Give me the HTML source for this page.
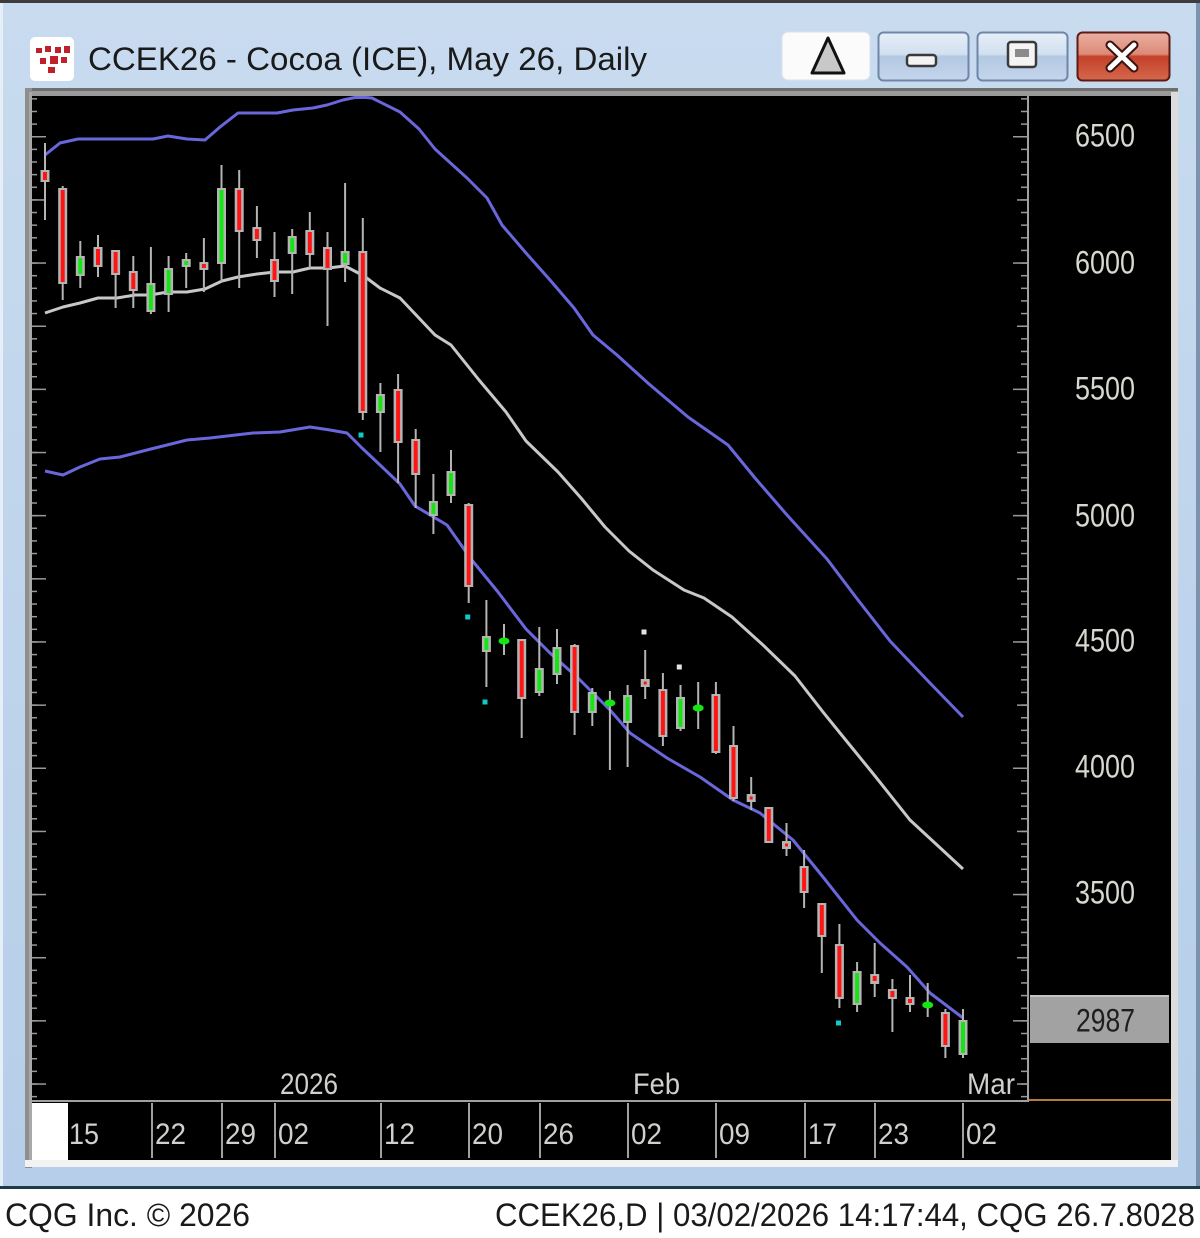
<!DOCTYPE html>
<html><head><meta charset="utf-8"><style>
html,body{margin:0;padding:0;background:#fff;}
svg{display:block;}
text{font-family:"Liberation Sans",sans-serif;}
</style></head><body>
<svg width="1200" height="1238" viewBox="0 0 1200 1238" xmlns="http://www.w3.org/2000/svg">
<defs>
<linearGradient id="tb" x1="0" y1="0" x2="0" y2="1"><stop offset="0" stop-color="#c8dbef"/><stop offset="1" stop-color="#b6cee9"/></linearGradient>
<linearGradient id="btn" x1="0" y1="0" x2="0" y2="1"><stop offset="0" stop-color="#e6eff9"/><stop offset="0.45" stop-color="#d2e0f0"/><stop offset="0.5" stop-color="#b3c8e2"/><stop offset="1" stop-color="#c4d6ec"/></linearGradient>
<linearGradient id="cls" x1="0" y1="0" x2="0" y2="1"><stop offset="0" stop-color="#eab0a2"/><stop offset="0.45" stop-color="#dc8a76"/><stop offset="0.5" stop-color="#c4402a"/><stop offset="1" stop-color="#d4684c"/></linearGradient>
<pattern id="tk" x="0" y="136" width="20" height="12.63" patternUnits="userSpaceOnUse"><rect x="0" y="0" width="20" height="1.5" fill="#9a9a9a"/></pattern>
</defs>
<!-- window frame -->
<rect x="0" y="0" width="1200" height="1189" fill="url(#tb)"/>
<rect x="0" y="0" width="1200" height="3" fill="#3c3c3c"/>
<rect x="0" y="3" width="3" height="1184" fill="#e6eef7"/>
<rect x="1196" y="3" width="4" height="1184" fill="#7d93ad"/>
<rect x="0" y="1186" width="1200" height="3" fill="#1d3a48"/>
<!-- icon -->
<rect x="30" y="37" width="44" height="44" rx="5" fill="#ffffff"/>
<rect x="36" y="48" width="6" height="5" fill="#c0202a"/><rect x="45" y="46" width="6" height="6" fill="#c0202a"/><rect x="55" y="47" width="6" height="6" fill="#c0202a"/><rect x="64" y="46" width="6" height="7" fill="#c0202a"/>
<rect x="40" y="58" width="6" height="6" fill="#c0202a"/><rect x="50" y="56" width="8" height="8" fill="#c0202a"/><rect x="61" y="57" width="6" height="6" fill="#c0202a"/><rect x="48" y="67" width="7" height="6" fill="#c0202a"/>
<text x="88" y="70" font-size="32" fill="#1a1a1a" textLength="559" lengthAdjust="spacingAndGlyphs">CCEK26 - Cocoa (ICE), May 26, Daily</text>
<!-- buttons -->
<rect x="782" y="32" width="88" height="48" rx="6" fill="#fbfbfb" stroke="#d8e2ee" stroke-width="1"/>
<polygon points="828,38 844,73 812,73" fill="#c8c8c8" stroke="#111" stroke-width="3" stroke-linejoin="round"/>
<rect x="878.5" y="32.5" width="90" height="48" rx="5" fill="url(#btn)" stroke="#6f86a8" stroke-width="2"/>
<rect x="907" y="55" width="29" height="11" rx="3" fill="#f4f4f4" stroke="#3a3a3a" stroke-width="2.5"/>
<rect x="977.5" y="32.5" width="90" height="48" rx="5" fill="url(#btn)" stroke="#6f86a8" stroke-width="2"/>
<rect x="1008" y="42" width="28" height="25" rx="3" fill="#f4f4f4" stroke="#3a3a3a" stroke-width="2.5"/>
<rect x="1015" y="49" width="14" height="8" fill="#8a8a8a"/>
<rect x="1077.5" y="32.5" width="92" height="48" rx="5" fill="url(#cls)" stroke="#5c1b14" stroke-width="2"/>
<path d="M1110,45 L1134,68 M1134,45 L1110,68" stroke="#3a1410" stroke-width="9" stroke-linecap="round"/>
<path d="M1110,45 L1134,68 M1134,45 L1110,68" stroke="#ffffff" stroke-width="5" stroke-linecap="round"/>
<!-- chart panel border -->
<rect x="25" y="88" width="1153" height="80" fill="#9a9a9a"/>
<rect x="25" y="88" width="1153" height="3" fill="#6e6e6e"/>
<rect x="25" y="88" width="7" height="1080" fill="#8e8e8e"/>
<rect x="29" y="92" width="3" height="1070" fill="#a8a8a8"/>
<rect x="1171" y="92" width="7" height="1070" fill="#dcdcdc"/>
<rect x="25" y="1160" width="1153" height="7" fill="#f2f2f2"/>
<!-- plot area -->
<rect x="32" y="96" width="1139" height="1064" fill="#000"/>
<rect x="1027" y="96" width="2" height="1006" fill="#a0a0a0"/>
<rect x="32" y="1100" width="997" height="2" fill="#a0a0a0"/>
<rect x="1029" y="1099" width="142" height="2" fill="#b87a3a"/>
<!-- ticks -->
<rect x="1021" y="97" width="6" height="1003" fill="url(#tk)"/>
<rect x="32" y="97" width="5" height="1003" fill="url(#tk)"/>
<g fill="#9a9a9a">
<rect x="1013" y="136" width="14" height="1.5"/><rect x="1017" y="199.2" width="10" height="1.5"/><rect x="1013" y="262.3" width="14" height="1.5"/><rect x="1017" y="325.5" width="10" height="1.5"/><rect x="1013" y="388.6" width="14" height="1.5"/><rect x="1017" y="451.8" width="10" height="1.5"/><rect x="1013" y="514.9" width="14" height="1.5"/><rect x="1017" y="578.1" width="10" height="1.5"/><rect x="1013" y="641.2" width="14" height="1.5"/><rect x="1017" y="704.4" width="10" height="1.5"/><rect x="1013" y="767.5" width="14" height="1.5"/><rect x="1017" y="830.7" width="10" height="1.5"/><rect x="1013" y="893.8" width="14" height="1.5"/><rect x="1017" y="957" width="10" height="1.5"/><rect x="1013" y="1020.1" width="14" height="1.5"/><rect x="1017" y="1083.3" width="10" height="1.5"/>
<rect x="32" y="136" width="14" height="1.5"/><rect x="32" y="199.2" width="14" height="1.5"/><rect x="32" y="262.3" width="14" height="1.5"/><rect x="32" y="325.5" width="14" height="1.5"/><rect x="32" y="388.6" width="14" height="1.5"/><rect x="32" y="451.8" width="14" height="1.5"/><rect x="32" y="514.9" width="14" height="1.5"/><rect x="32" y="578.1" width="14" height="1.5"/><rect x="32" y="641.2" width="14" height="1.5"/><rect x="32" y="704.4" width="14" height="1.5"/><rect x="32" y="767.5" width="14" height="1.5"/><rect x="32" y="830.7" width="14" height="1.5"/><rect x="32" y="893.8" width="14" height="1.5"/><rect x="32" y="957" width="14" height="1.5"/><rect x="32" y="1020.1" width="14" height="1.5"/><rect x="32" y="1083.3" width="14" height="1.5"/>
</g>
<!-- price labels -->
<g font-size="32" fill="#d8d8d0">
<text x="1075" y="146.5" textLength="60" lengthAdjust="spacingAndGlyphs">6500</text>
<text x="1075" y="273.5" textLength="60" lengthAdjust="spacingAndGlyphs">6000</text>
<text x="1075" y="399.5" textLength="60" lengthAdjust="spacingAndGlyphs">5500</text>
<text x="1075" y="526.5" textLength="60" lengthAdjust="spacingAndGlyphs">5000</text>
<text x="1075" y="651.5" textLength="60" lengthAdjust="spacingAndGlyphs">4500</text>
<text x="1075" y="777.5" textLength="60" lengthAdjust="spacingAndGlyphs">4000</text>
<text x="1075" y="903.5" textLength="60" lengthAdjust="spacingAndGlyphs">3500</text>
</g>
<rect x="1030" y="995" width="139" height="48" fill="#a2a2a2"/>
<rect x="1030" y="995" width="139" height="2" fill="#c4c4c4"/>
<text x="1076" y="1031.5" font-size="32" fill="#1e1e1e" textLength="59" lengthAdjust="spacingAndGlyphs">2987</text>
<!-- date strip -->
<rect x="32" y="1103" width="36" height="57" fill="#ffffff"/>
<g fill="#a0a0a0">
<rect x="151" y="1103" width="2" height="55"/><rect x="221" y="1103" width="2" height="55"/><rect x="274" y="1103" width="2" height="55"/><rect x="380" y="1103" width="2" height="55"/><rect x="468" y="1103" width="2" height="55"/><rect x="539" y="1103" width="2" height="55"/><rect x="627" y="1103" width="2" height="55"/><rect x="715" y="1103" width="2" height="55"/><rect x="804" y="1103" width="2" height="55"/><rect x="874" y="1103" width="2" height="55"/><rect x="962" y="1103" width="2" height="55"/>
</g>
<g font-size="30" fill="#d0d0cc">
<text x="69" y="1144" textLength="30" lengthAdjust="spacingAndGlyphs">15</text>
<text x="155" y="1144" textLength="31" lengthAdjust="spacingAndGlyphs">22</text>
<text x="225" y="1144" textLength="31" lengthAdjust="spacingAndGlyphs">29</text>
<text x="278" y="1144" textLength="31" lengthAdjust="spacingAndGlyphs">02</text>
<text x="384" y="1144" textLength="31" lengthAdjust="spacingAndGlyphs">12</text>
<text x="472" y="1144" textLength="31" lengthAdjust="spacingAndGlyphs">20</text>
<text x="543" y="1144" textLength="31" lengthAdjust="spacingAndGlyphs">26</text>
<text x="631" y="1144" textLength="31" lengthAdjust="spacingAndGlyphs">02</text>
<text x="719" y="1144" textLength="31" lengthAdjust="spacingAndGlyphs">09</text>
<text x="808" y="1144" textLength="29" lengthAdjust="spacingAndGlyphs">17</text>
<text x="878" y="1144" textLength="31" lengthAdjust="spacingAndGlyphs">23</text>
<text x="966" y="1144" textLength="31" lengthAdjust="spacingAndGlyphs">02</text>
<text x="280" y="1094" textLength="58" lengthAdjust="spacingAndGlyphs">2026</text>
<text x="633" y="1094" textLength="47" lengthAdjust="spacingAndGlyphs">Feb</text>
<text x="967" y="1094" textLength="48" lengthAdjust="spacingAndGlyphs">Mar</text>
</g>
<!-- bands -->
<g fill="none" stroke-width="3" stroke-linejoin="round">
<polyline stroke="#6a66dc" points="45,155 60,143 78,139 153,139 168,136 187,139 205,140 220,127 238,113 277,113 293,110 313,108 327,105 343,100 355,97.5 366,97.5 372,98 400,112 419,129 435,149 467,178 487,198 502,225 526,253 550,280 574,308 593,335 617,355 649,384 688,417 728,445 755,478 787,515 827,559 858,600 890,641 929,682 963,717"/>
<polyline stroke="#c8c8c8" points="45,313 63,307 80,303 98,298 117,298 135,295 150,295 168,292 187,292 205,289 222,281 238,277 257,274 275,272 293,272 310,268 328,268 345,266 364,276 380,288 400,298 435,335 451,345 479,380 506,412 526,441 558,472 581,498 605,527 629,551 653,570 684,590 704,598 732,617 763,645 795,676 823,712 840,733 875,776 910,820 963,869"/>
<polyline stroke="#6a66dc" points="45,471 63,475 80,467 100,459 120,457 147,450 187,440 210,438 253,433 280,432 310,427 330,430 347,433 362,448 380,465 400,484 415,506 447,525 471,559 498,592 526,629 550,653 578,678 610,710 630,733 667,758 700,777 733,800 760,813 793,840 823,877 857,920 880,943 907,967 930,993 963,1018"/>
</g>
<!-- candles: wicks -->
<g fill="#b4b4b4">
<rect x="44" y="143" width="2" height="77"/><rect x="61.7" y="186" width="2" height="114"/><rect x="79.3" y="241" width="2" height="47"/><rect x="97" y="235" width="2" height="42"/><rect x="114.6" y="250" width="2" height="58"/><rect x="132.3" y="256" width="2" height="52"/><rect x="149.9" y="247" width="2" height="67"/><rect x="167.6" y="256" width="2" height="56"/><rect x="185.2" y="253" width="2" height="35"/><rect x="202.9" y="238" width="2" height="54"/><rect x="220.5" y="165" width="2" height="117"/><rect x="238.2" y="170" width="2" height="118"/><rect x="255.9" y="206" width="2" height="52"/><rect x="273.5" y="232" width="2" height="65"/><rect x="291.2" y="229" width="2" height="65"/><rect x="308.8" y="212" width="2" height="56"/><rect x="326.5" y="232" width="2" height="94"/><rect x="344.1" y="183" width="2" height="99"/><rect x="361.8" y="218" width="2" height="202"/><rect x="379.4" y="383" width="2" height="69"/><rect x="397.1" y="374" width="2" height="109"/><rect x="414.7" y="429" width="2" height="79"/><rect x="432.4" y="474" width="2" height="60"/><rect x="450" y="450" width="2" height="53"/><rect x="467.7" y="503" width="2" height="100"/><rect x="485.4" y="600" width="2" height="87"/><rect x="503" y="624" width="2" height="31"/><rect x="520.7" y="639" width="2" height="99"/><rect x="538.3" y="627" width="2" height="69"/><rect x="556" y="629" width="2" height="55"/><rect x="573.6" y="644" width="2" height="91"/><rect x="591.3" y="688" width="2" height="38"/><rect x="608.9" y="691" width="2" height="79"/><rect x="626.6" y="685" width="2" height="82"/><rect x="644.2" y="650" width="2" height="49"/><rect x="661.9" y="673" width="2" height="73"/><rect x="679.5" y="685" width="2" height="46"/><rect x="697.2" y="682" width="2" height="47"/><rect x="714.9" y="682" width="2" height="72"/><rect x="732.5" y="726" width="2" height="75"/><rect x="750.2" y="777" width="2" height="33"/><rect x="767.8" y="807" width="2" height="36"/><rect x="785.5" y="823" width="2" height="33"/><rect x="803.1" y="850" width="2" height="58"/><rect x="820.8" y="903" width="2" height="70"/><rect x="838.4" y="924" width="2" height="84"/><rect x="856.1" y="962" width="2" height="50"/><rect x="873.7" y="943" width="2" height="54"/><rect x="891.4" y="979" width="2" height="53"/><rect x="909" y="975" width="2" height="37"/><rect x="926.7" y="983" width="2" height="34"/><rect x="944.4" y="1009" width="2" height="49"/><rect x="962" y="1009" width="2" height="49"/>
</g>
<!-- candles: bodies outline -->
<g fill="#b4b4b4">
<rect x="40.5" y="170" width="9" height="12"/><rect x="58.2" y="188" width="9" height="96"/><rect x="75.8" y="256" width="9" height="20"/><rect x="93.5" y="247" width="9" height="20"/><rect x="111.1" y="250" width="9" height="25"/><rect x="128.8" y="271" width="9" height="20"/><rect x="146.4" y="283" width="9" height="29"/><rect x="164.1" y="268" width="9" height="27"/><rect x="181.7" y="259" width="9" height="8"/><rect x="199.4" y="262" width="9" height="8"/><rect x="217" y="188" width="9" height="76"/><rect x="234.7" y="188" width="9" height="44"/><rect x="252.4" y="227" width="9" height="14"/><rect x="270" y="259" width="9" height="23"/><rect x="287.7" y="236" width="9" height="18"/><rect x="305.3" y="230" width="9" height="25"/><rect x="323" y="247" width="9" height="23"/><rect x="340.6" y="251" width="9" height="14"/><rect x="358.3" y="251" width="9" height="162"/><rect x="375.9" y="394" width="9" height="19"/><rect x="393.6" y="389" width="9" height="54"/><rect x="411.2" y="439" width="9" height="36"/><rect x="428.9" y="501" width="9" height="15"/><rect x="446.5" y="471" width="9" height="25"/><rect x="464.2" y="504" width="9" height="83"/><rect x="481.9" y="636" width="9" height="16"/><rect x="517.2" y="639" width="9" height="60"/><rect x="534.8" y="668" width="9" height="25"/><rect x="552.5" y="647" width="9" height="28"/><rect x="570.1" y="645" width="9" height="68"/><rect x="587.8" y="692" width="9" height="21"/><rect x="623.1" y="695" width="9" height="28"/><rect x="640.7" y="679" width="9" height="8"/><rect x="658.4" y="689" width="9" height="48"/><rect x="676" y="697" width="9" height="32"/><rect x="711.4" y="694" width="9" height="59"/><rect x="729" y="745" width="9" height="54"/><rect x="746.7" y="794" width="9" height="8"/><rect x="764.3" y="807" width="9" height="36"/><rect x="782" y="841" width="9" height="8"/><rect x="799.6" y="866" width="9" height="27"/><rect x="817.3" y="903" width="9" height="34"/><rect x="834.9" y="944" width="9" height="55"/><rect x="852.6" y="971" width="9" height="34"/><rect x="870.2" y="974" width="9" height="10"/><rect x="887.9" y="989" width="9" height="10"/><rect x="905.5" y="997" width="9" height="8"/><rect x="940.9" y="1012" width="9" height="35"/><rect x="958.5" y="1020" width="9" height="35"/>
</g>
<!-- red fills -->
<g fill="#ff1414">
<rect x="43" y="172" width="4" height="8"/><rect x="60.7" y="190" width="4" height="92"/><rect x="96" y="249" width="4" height="16"/><rect x="113.6" y="252" width="4" height="21"/><rect x="131.3" y="273" width="4" height="16"/><rect x="201.9" y="264" width="4" height="4"/><rect x="237.2" y="190" width="4" height="40"/><rect x="254.9" y="229" width="4" height="10"/><rect x="272.5" y="261" width="4" height="19"/><rect x="307.8" y="232" width="4" height="21"/><rect x="325.5" y="249" width="4" height="19"/><rect x="360.8" y="253" width="4" height="158"/><rect x="396.1" y="391" width="4" height="50"/><rect x="413.7" y="441" width="4" height="32"/><rect x="466.7" y="506" width="4" height="79"/><rect x="519.7" y="641" width="4" height="56"/><rect x="572.6" y="647" width="4" height="64"/><rect x="643.7" y="681.5" width="3" height="3"/><rect x="660.9" y="691" width="4" height="44"/><rect x="713.9" y="696" width="4" height="55"/><rect x="731.5" y="747" width="4" height="50"/><rect x="749.7" y="796.5" width="3" height="3"/><rect x="766.8" y="809" width="4" height="32"/><rect x="785" y="843.5" width="3" height="3"/><rect x="802.1" y="868" width="4" height="23"/><rect x="819.8" y="905" width="4" height="30"/><rect x="837.4" y="946" width="4" height="51"/><rect x="872.7" y="976" width="4" height="5"/><rect x="890.4" y="991" width="4" height="6"/><rect x="908" y="999" width="4" height="4"/><rect x="943.4" y="1014" width="4" height="31"/>
</g>
<!-- green fills -->
<g fill="#14e614">
<rect x="78.3" y="258" width="4" height="16"/><rect x="148.9" y="285" width="4" height="25"/><rect x="166.6" y="270" width="4" height="23"/><rect x="184.2" y="261" width="4" height="4"/><rect x="219.5" y="190" width="4" height="72"/><rect x="290.2" y="238" width="4" height="14"/><rect x="343.1" y="253" width="4" height="10"/><rect x="378.4" y="396" width="4" height="15"/><rect x="431.4" y="503" width="4" height="11"/><rect x="449" y="473" width="4" height="21"/><rect x="484.4" y="638" width="4" height="12"/><rect x="537.3" y="670" width="4" height="21"/><rect x="555" y="649" width="4" height="24"/><rect x="590.3" y="694" width="4" height="17"/><rect x="625.6" y="697" width="4" height="24"/><rect x="678.5" y="699" width="4" height="28"/><rect x="855.1" y="973" width="4" height="30"/><rect x="961" y="1022" width="4" height="31"/>
<ellipse cx="504" cy="641" rx="5.5" ry="3.5"/><ellipse cx="609.9" cy="703" rx="5.5" ry="3.5"/><ellipse cx="698.2" cy="708" rx="5.5" ry="3.5"/><ellipse cx="927.7" cy="1005" rx="5.5" ry="3.5"/>
</g>
<!-- markers -->
<g fill="#10c8c8">
<rect x="358.5" y="432.5" width="5" height="5"/><rect x="465.2" y="614.5" width="5" height="5"/><rect x="482.5" y="699.5" width="5" height="5"/><rect x="836" y="1020.5" width="5" height="5"/>
</g>
<g fill="#e4e4e4">
<rect x="641.5" y="629.5" width="5" height="5"/><rect x="676.8" y="664.5" width="5" height="5"/>
</g>
<!-- footer -->
<rect x="0" y="1189" width="1200" height="49" fill="#ffffff"/>
<text x="5" y="1226" font-size="32" fill="#1a1a1a" textLength="245" lengthAdjust="spacingAndGlyphs">CQG Inc. © 2026</text>
<text x="495" y="1226" font-size="32" fill="#1a1a1a" textLength="700" lengthAdjust="spacingAndGlyphs">CCEK26,D | 03/02/2026 14:17:44, CQG 26.7.8028</text>
</svg>
</body></html>
